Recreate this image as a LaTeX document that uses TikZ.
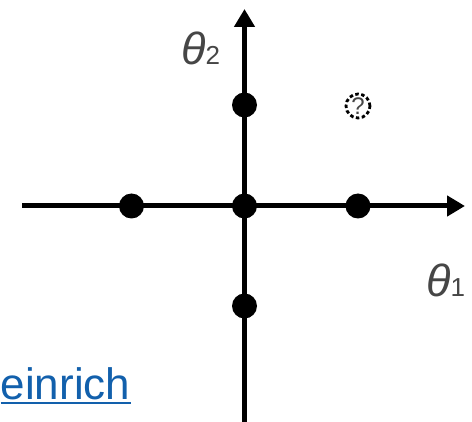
\documentclass[tikz,border=0pt]{standalone}
\usepackage{fontspec}
\setmainfont{Liberation Sans}
\usepackage{tikz}
\usetikzlibrary{arrows.meta}
\definecolor{linkblue}{RGB}{18,96,172}
\definecolor{labelgray}{RGB}{70,70,70}

\begin{document}
\begin{tikzpicture}[x=1pt,y=-1pt,
  axis/.style={line width=5pt, -{Triangle[length=18pt,width=20pt]}},
  sample/.style={circle, fill=black, inner sep=0pt, minimum size=25pt},
  unknown/.style={circle, draw=black, dashed, dash pattern=on 3.5pt off 2.5pt, line width=2.8pt,
    inner sep=0pt, minimum size=24pt, text=labelgray, font=\fontsize{24}{24}\selectfont},
  axislabel/.style={inner sep=0pt, anchor=base west, text=labelgray}]
\useasboundingbox (0,0) rectangle (472,422);
% axes
\coordinate (xstart) at (22,206);
\coordinate (xend) at (465,206);
\coordinate (ystart) at (244.5,422);
\coordinate (yend) at (244.5,9);
\draw[axis] (xstart) -- (xend);
\draw[axis] (ystart) -- (yend);
% samples
\node[sample] (origin) at (244.5,206) {};
\node[sample] (left) at (131.5,206) {};
\node[sample] (right) at (358,206) {};
\node[sample] (up) at (244.5,105) {};
\node[sample] (down) at (244.5,306) {};
\node[unknown] (query) at (358,106) {?};
% labels
\node[axislabel] (theta2) at (181,65) {\fontsize{45}{45}\selectfont\itshape θ\fontsize{26}{26}\selectfont\upshape 2};
\node[axislabel] (theta1) at (426,297) {\fontsize{45}{45}\selectfont\itshape θ\fontsize{26}{26}\selectfont\upshape 1};
\node[inner sep=0pt, anchor=base west, text=linkblue] (link) at (0.5,400)
  {\fontsize{44}{44}\selectfont einrich};
\draw[linkblue, line width=2pt] ([yshift=-3.5pt]link.base west) -- ([yshift=-3.5pt]link.base east);
\end{tikzpicture}
\end{document}
